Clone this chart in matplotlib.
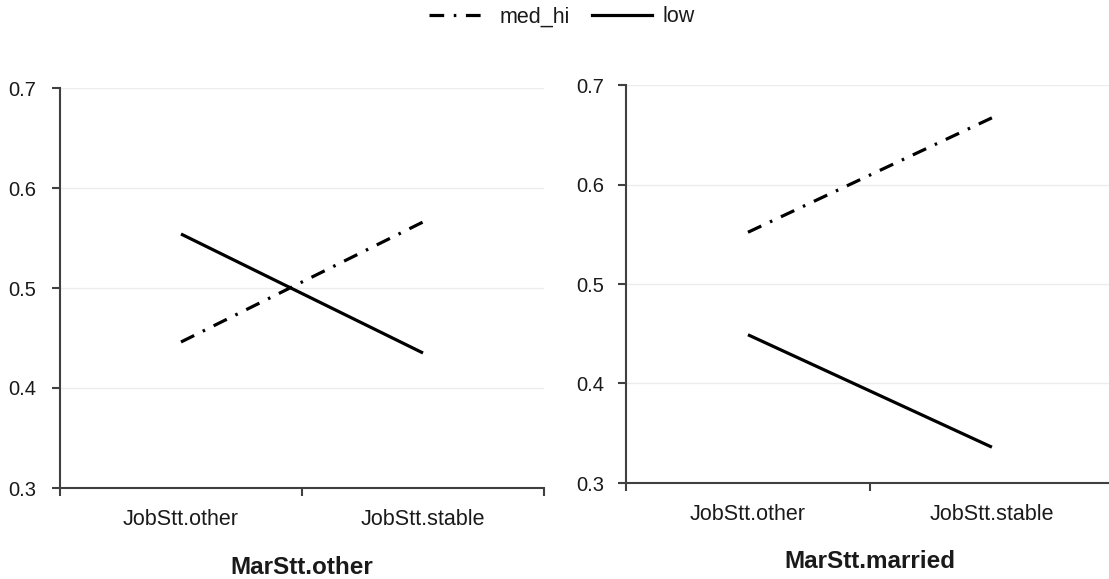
import matplotlib
matplotlib.use("Agg")
from matplotlib import pyplot as plt
from matplotlib.lines import Line2D

plt.rcParams['font.family'] = ['Liberation Sans', 'DejaVu Sans']

# data
categories = ["JobStt.other", "JobStt.stable"]
panel_titles = ["MarStt.other", "MarStt.married"]
med_hi = [[0.446, 0.566], [0.552, 0.667]]
low = [[0.554, 0.435], [0.449, 0.336]]
yticks = [0.3, 0.4, 0.5, 0.6, 0.7]
ytick_labels = ["0.3", "0.4", "0.5", "0.6", "0.7"]

W, H = 1109, 579
fig = plt.figure(figsize=(W / 100, H / 100), dpi=100)

def px_box(x0, x1, ytop, ybot):
    return [x0 / W, 1 - ybot / H, (x1 - x0) / W, (ybot - ytop) / H]

axes = [fig.add_axes(px_box(60, 544, 88, 488)),
        fig.add_axes(px_box(626, 1109, 85, 483))]
xmax = [1.5, 1.48]
ypads = [11, 9.5]
title_y = [568, 562]
title_x = [302, 870]

dashdot = (0, (4.6, 3.0, 0.8, 3.0))
txt = '#1a1a1a'
spine_col = '#404040'

for i, ax in enumerate(axes):
    x = range(len(categories))
    ax.plot(x, med_hi[i], color='black', lw=2.3, ls=dashdot, dash_capstyle='butt')
    ax.plot(x, low[i], color='black', lw=2.3, solid_capstyle='butt')
    ax.set_ylim(0.3, 0.7)
    ax.set_xlim(-0.5, xmax[i])
    ax.set_yticks(yticks)
    ax.set_yticklabels(ytick_labels)
    # tick marks sit between categories, like the original
    ax.set_xticks([t for t in [-0.5, 0.5, 1.5] if t <= xmax[i]])
    ax.set_xticklabels([])
    ax.set_xticks([0, 1], minor=True)
    ax.set_xticklabels(categories, minor=True)
    ax.tick_params(axis='x', which='minor', length=0, pad=15, labelsize=15.5, labelcolor=txt)
    ax.tick_params(axis='x', which='major', length=6, width=1.5, color=spine_col)
    ax.tick_params(axis='y', length=6, width=1.5, color=spine_col, pad=ypads[i],
                   labelsize=14.5, labelcolor=txt)
    for s in ['top', 'right']:
        ax.spines[s].set_visible(False)
    for s in ['left', 'bottom']:
        ax.spines[s].set_color(spine_col)
        ax.spines[s].set_linewidth(1.5)
    ax.grid(axis='y', color='#ececec', lw=1)
    ax.set_axisbelow(True)
    fig.text(title_x[i] / W, 1 - title_y[i] / H, panel_titles[i], ha='center', va='center',
             fontsize=17.5, fontweight='bold', color=txt)

handles = [Line2D([], [], color='black', lw=2.3, ls=dashdot, dash_capstyle='butt'),
           Line2D([], [], color='black', lw=2.3)]
fig.legend(handles, ["med_hi", "low"], loc='center', bbox_to_anchor=(562 / W, 1 - 17 / H),
           ncol=2, frameon=False, fontsize=15.5, handlelength=2.8, handletextpad=0.5,
           columnspacing=1.0, labelcolor=txt)

fig.savefig("out.png", dpi=100)
